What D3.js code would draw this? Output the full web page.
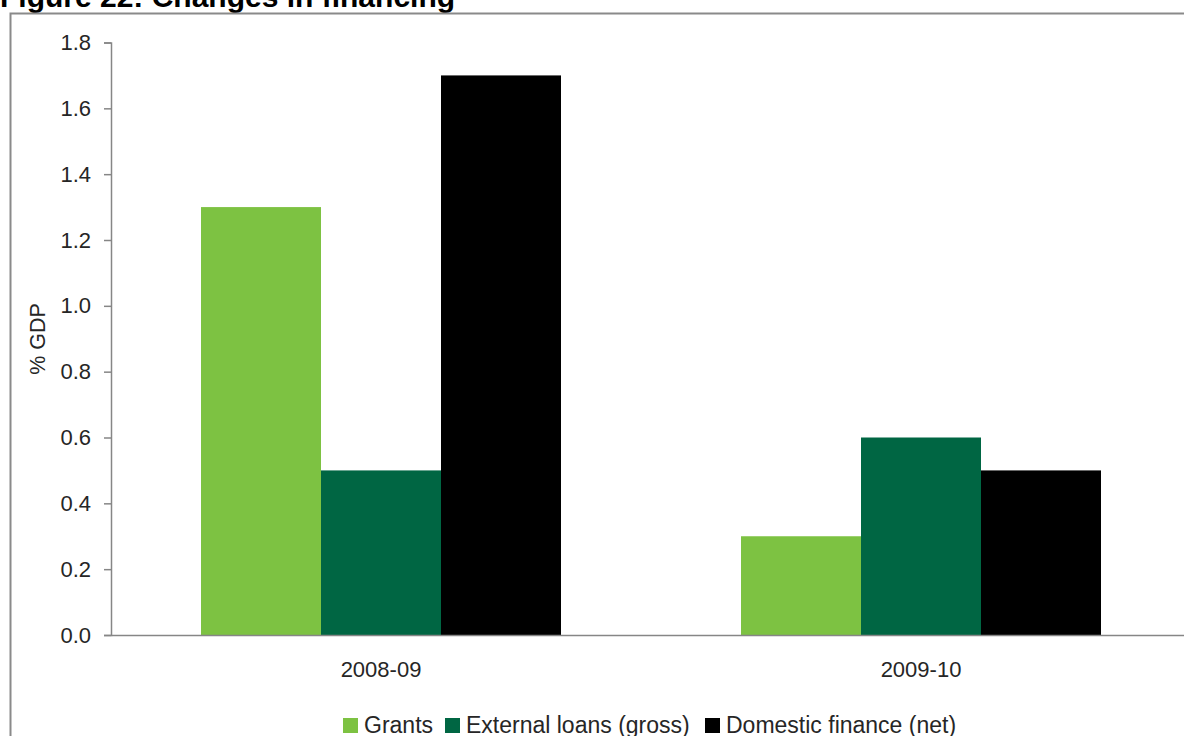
<!DOCTYPE html>
<html>
<head>
<meta charset="utf-8">
<script src="https://cdn.jsdelivr.net/npm/d3@7/dist/d3.min.js"></script>
<style>
  html, body { margin: 0; padding: 0; background: #fff; }
  svg { display: block; font-family: Arial, "Liberation Sans", sans-serif; }
</style>
</head>
<body>
<svg id="chart" width="1184" height="736"></svg>
<script>
// Financing changes, % of GDP
const categories = ["2008-09", "2009-10"];
const seriesNames = ["Grants", "External loans (gross)", "Domestic finance (net)"];
const grants = [1.3, 0.3];
const externalLoans = [0.5, 0.6];
const domesticFinance = [1.7, 0.5];
const yTicks = [0.0, 0.2, 0.4, 0.6, 0.8, 1.0, 1.2, 1.4, 1.6, 1.8];
const seriesColors = ["#7dc242", "#006643", "#000000"];

const seriesValues = [grants, externalLoans, domesticFinance];
const rows = categories.map((c, i) => ({
  category: c,
  values: seriesNames.map((s, k) => ({ series: s, value: seriesValues[k][i] }))
}));

const svg = d3.select("#chart");
const textColor = "#262626";
const axisColor = "#868686";
const fontStack = "Arial, 'Liberation Sans', sans-serif";

// Title (partly above the top edge) and outer frame
svg.append("text")
  .attr("x", 0).attr("y", 7)
  .attr("font-size", 30).attr("font-weight", "bold")
  .attr("fill", "#000")
  .text("Figure 22: Changes in financing");

svg.append("rect")
  .attr("x", 10.5).attr("y", 13.5)
  .attr("width", 1200).attr("height", 800)
  .attr("fill", "none").attr("stroke", "#8a8a8a").attr("stroke-width", 2);

const plotLeft = 111, plotRight = 1191, plotTop = 42.5, plotBottom = 635;

const x0 = d3.scaleBand()
  .domain(categories)
  .range([plotLeft, plotRight])
  .paddingInner(1 / 3)
  .paddingOuter(1 / 6);

const x1 = d3.scaleBand()
  .domain(seriesNames)
  .range([0, x0.bandwidth()]);

const y = d3.scaleLinear().domain([0, 1.8]).range([plotBottom, plotTop]);

const color = d3.scaleOrdinal().domain(seriesNames).range(seriesColors);

// Bars
const groups = svg.append("g").selectAll("g")
  .data(rows).join("g")
  .attr("transform", d => `translate(${x0(d.category)},0)`);

groups.selectAll("rect")
  .data(d => d.values).join("rect")
  .attr("x", d => x1(d.series))
  .attr("width", x1.bandwidth())
  .attr("y", d => y(d.value))
  .attr("height", d => y(0) - y(d.value))
  .attr("fill", d => color(d.series));

// Y axis
const yAxis = svg.append("g")
  .attr("transform", `translate(${plotLeft},0)`)
  .call(d3.axisLeft(y).tickValues(yTicks).tickFormat(d3.format(".1f")).tickSize(7).tickSizeOuter(7).tickPadding(13));
yAxis.select(".domain").attr("stroke", axisColor).attr("stroke-width", 1.5);
yAxis.selectAll(".tick line").attr("stroke", axisColor).attr("stroke-width", 1.5);
yAxis.selectAll(".tick text")
  .attr("font-size", 22).attr("fill", textColor)
  .attr("font-family", fontStack);

// X axis
const xAxis = svg.append("g")
  .attr("transform", `translate(0,${plotBottom})`)
  .call(d3.axisBottom(x0).tickSize(0).tickSizeOuter(0).tickPadding(26));
xAxis.select(".domain").attr("stroke", axisColor).attr("stroke-width", 1.5);
xAxis.selectAll(".tick text")
  .attr("font-size", 22).attr("fill", textColor)
  .attr("font-family", fontStack);

// Y axis title
svg.append("text")
  .attr("transform", "translate(45,339) rotate(-90)")
  .attr("text-anchor", "middle")
  .attr("font-size", 21.5).attr("fill", textColor)
  .text("% GDP");

// Legend
const legendX = [343, 445, 705];
const legend = svg.append("g").selectAll("g")
  .data(seriesNames).join("g")
  .attr("transform", (d, i) => `translate(${legendX[i]},718)`);
legend.append("rect")
  .attr("width", 15).attr("height", 15)
  .attr("fill", d => color(d));
legend.append("text")
  .attr("x", 21).attr("y", 15)
  .attr("font-size", 23).attr("fill", textColor)
  .text(d => d);
</script>
</body>
</html>
